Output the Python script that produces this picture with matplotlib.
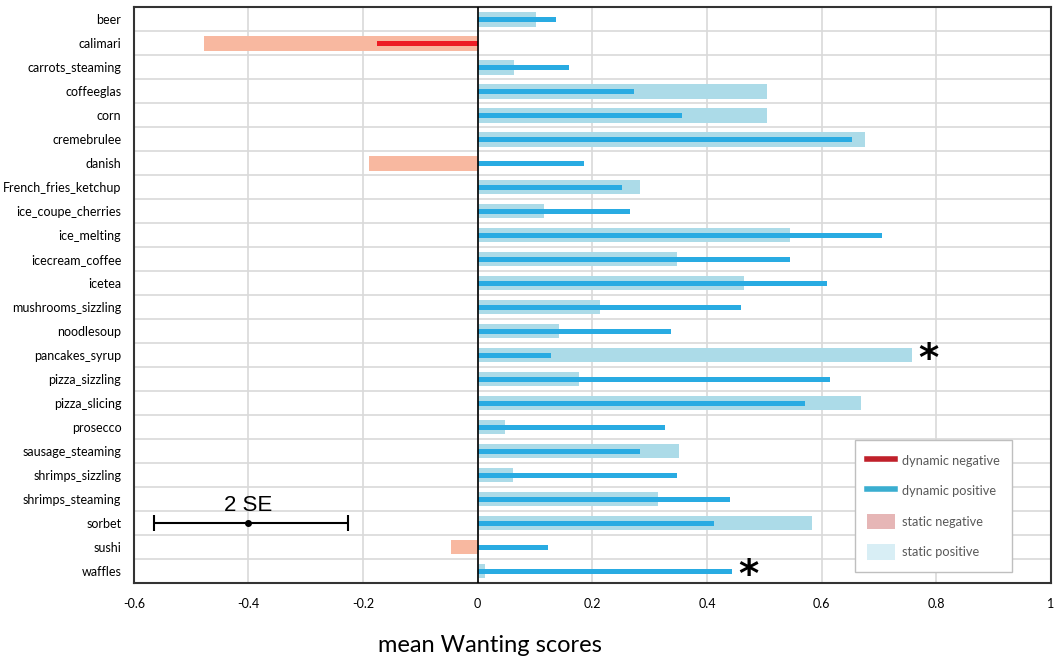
import numpy as np
import matplotlib.pyplot as plt
from matplotlib.patches import Patch
from matplotlib.lines import Line2D

plt.rcParams['font.family'] = ['Lato', 'DejaVu Sans']

# data
foods = ['beer', 'calimari', 'carrots_steaming', 'coffeeglas', 'corn', 'cremebrulee',
         'danish', 'French_fries_ketchup', 'ice_coupe_cherries', 'ice_melting',
         'icecream_coffee', 'icetea', 'mushrooms_sizzling', 'noodlesoup',
         'pancakes_syrup', 'pizza_sizzling', 'pizza_slicing', 'prosecco',
         'sausage_steaming', 'shrimps_sizzling', 'shrimps_steaming', 'sorbet',
         'sushi', 'waffles']
static = [0.102, -0.477, 0.063, 0.504, 0.504, 0.675,
          -0.189, 0.284, 0.115, 0.545,
          0.347, 0.464, 0.214, 0.141,
          0.758, 0.176, 0.668, 0.047,
          0.352, 0.061, 0.315, 0.583,
          -0.047, 0.013]
dynamic = [0.137, -0.175, 0.160, 0.273, 0.357, 0.653,
           0.185, 0.251, 0.266, 0.706,
           0.545, 0.610, 0.459, 0.338,
           0.127, 0.614, 0.571, 0.326,
           0.284, 0.347, 0.440, 0.413,
           0.122, 0.444]
signif = ['pancakes_syrup', 'waffles']
se_center = -0.4
se_low = -0.565
se_high = -0.226

static_pos, static_neg = '#acdbe8', '#f8b8a0'
dyn_pos, dyn_neg = '#29abe2', '#ed1c24'

fig = plt.figure(figsize=(10.54, 6.71), dpi=100)
ax = fig.add_axes([0.127, 0.131, 0.870, 0.858])

y = np.arange(len(foods))
st = np.array(static)
dy = np.array(dynamic)
ax.barh(y, st, height=0.6, color=np.where(st < 0, static_neg, static_pos), zorder=2)
ax.barh(y, dy, height=0.2, color=np.where(dy < 0, dyn_neg, dyn_pos), zorder=3)

for name in signif:
    i = foods.index(name)
    end = max(static[i], dynamic[i])
    ax.text(end + 0.01, i + 0.2, '*', fontsize=28, fontweight='bold',
            ha='left', va='center', family='DejaVu Sans', zorder=4)

# 2 SE scale bar
row = foods.index('sorbet')
ax.errorbar([se_center], [row], xerr=[[se_center - se_low], [se_high - se_center]],
            fmt='o', color='black', ms=4, capsize=6, elinewidth=1.5, capthick=1.5, zorder=4)
ax.text(se_center, row - 0.3, '2 SE', fontsize=16, ha='center', va='bottom',
        family=['Liberation Sans', 'DejaVu Sans'])

ax.set_xlim(-0.6, 1)
ax.set_ylim(len(foods) - 0.5, -0.5)
ax.set_xticks([-0.6, -0.4, -0.2, 0, 0.2, 0.4, 0.6, 0.8, 1])
ax.set_xticklabels(['-0.6', '-0.4', '-0.2', '0', '0.2', '0.4', '0.6', '0.8', '1'])
ax.set_yticks(y)
ax.set_yticklabels(foods)
ax.set_yticks(np.arange(len(foods) + 1) - 0.5, minor=True)
ax.tick_params(axis='both', which='both', length=0, labelsize=9)
ax.tick_params(axis='x', pad=11)
ax.tick_params(axis='y', pad=9)
ax.grid(axis='x', which='major', color='#d9d9d9', lw=1.2, zorder=0)
ax.grid(axis='y', which='minor', color='#d9d9d9', lw=1.2, zorder=0)
ax.axvline(0, color='black', lw=1.2, zorder=4)
for s in ax.spines.values():
    s.set_color('#333333')
    s.set_linewidth(1.5)

handles = [Line2D([], [], color='#c0202a', lw=4),
           Line2D([], [], color='#3aaed0', lw=4),
           Patch(facecolor='#e6b6b6'),
           Patch(facecolor='#d8eef5')]
labels = ['dynamic negative', 'dynamic positive', 'static negative', 'static positive']
leg = ax.legend(handles, labels, loc='upper left', bbox_to_anchor=(0.786, 0.248),
                fontsize=9.2, labelspacing=1.15, handlelength=2.2, handletextpad=0.5,
                handleheight=1.5, borderpad=1.0, borderaxespad=0, fancybox=False,
                framealpha=1)
leg.get_frame().set_edgecolor('#bfbfbf')
for t in leg.get_texts():
    t.set_color('#595959')

fig.text(0.465, 0.022, 'mean Wanting scores', fontsize=17, ha='center', va='bottom')

fig.savefig('out.png', dpi=100)
